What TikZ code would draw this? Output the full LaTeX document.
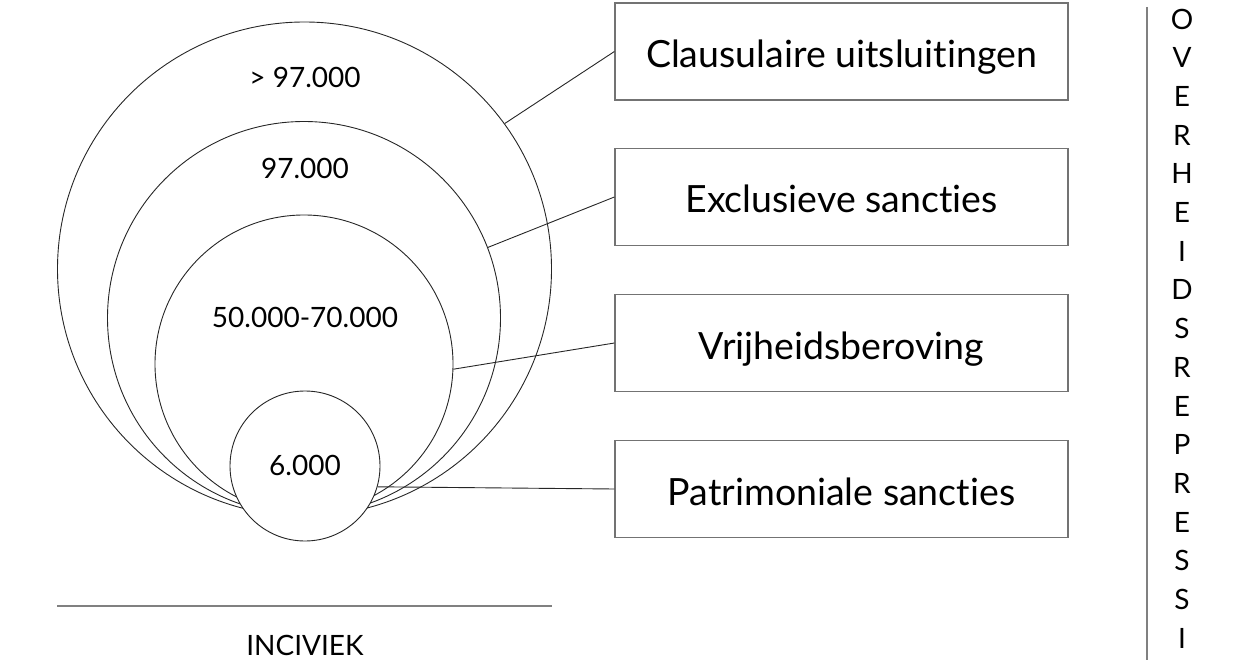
\documentclass[tikz,border=0pt]{standalone}
\usepackage{fontspec}
\setmainfont{Lato}[Ligatures={NoCommon}]
\begin{document}
\begin{tikzpicture}[x=1pt,y=-1pt,
  ring/.style={circle,draw=black!85,line width=0.9pt,inner sep=0pt},
  lbox/.style={draw=black!55,line width=1.2pt,minimum width=453pt,minimum height=97pt,inner sep=0pt,text height=32pt,text depth=0pt,font=\fontsize{37.5}{40}\selectfont},
  num/.style={inner sep=0pt,font=\fontsize{28}{32}\selectfont},
  link/.style={draw=black!85,line width=0.9pt},
  rule/.style={draw=black!50,line width=1.3pt}]
\useasboundingbox (0,0) rectangle (1250,660);
% circles
\node[ring,minimum size=494pt] (c1) at (304.5,269) {};
\node[ring,minimum size=393pt] (c2) at (304,318) {};
\node[ring,minimum size=298pt] (c3) at (304,364) {};
\node[ring,minimum size=150pt,fill=white] (c4) at (305,466) {};
% numbers
\node[num] (n1) at (305,77) {> 97.000};
\node[num] (n2) at (305,168) {97.000};
\node[num] (n3) at (305,317) {50.000-70.000};
\node[num] (n4) at (305,465) {6.000};
% boxes
\node[lbox] (b1) at (841.5,51.5) {Clausulaire uitsluitingen};
\node[lbox] (b2) at (841.5,197) {Exclusieve sancties};
\node[lbox] (b3) at (841.5,343) {Vrijheidsberoving};
\node[lbox] (b4) at (841.5,489) {Patrimoniale sancties};
% connectors
\draw[link] (c1.36.6) -- (b1.west);
\draw[link] (c2.21.7) -- (b2.west);
\draw[link] (c3.-2.3) -- (b3.west);
\draw[link] (c4.-16) -- (b4.west);
% bottom axis
\coordinate (h1) at (57,606);
\coordinate (h2) at (552,606);
\draw[rule] (h1) -- (h2);
\node[num] (inc) at (305,645) {INCIVIEK};
% right axis
\coordinate (v1) at (1147,7);
\coordinate (v2) at (1147,660);
\draw[rule] (v1) -- (v2);
\foreach \l [count=\i from 0] in {O,V,E,R,H,E,I,D,S,R,E,P,R,E,S,S,I}
  \node[num] (o\i) at (1182,19+38.7*\i) {\l};
\end{tikzpicture}
\end{document}
